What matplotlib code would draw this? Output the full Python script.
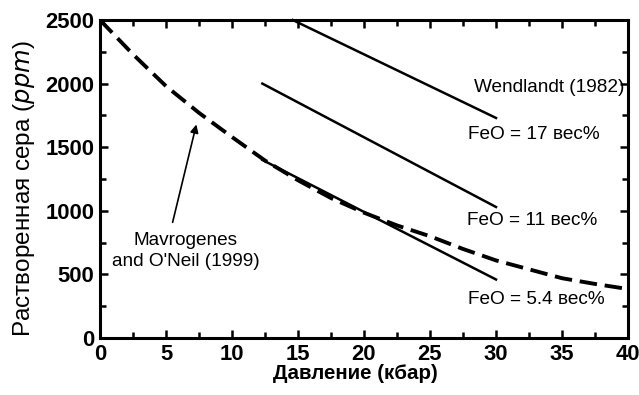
import matplotlib
matplotlib.use("Agg")
import matplotlib.pyplot as plt
from matplotlib.ticker import MultipleLocator

# Data
mavro_x = [0, 2.5, 5, 7.5, 10, 12.5, 15, 17.5, 20, 22.5, 25, 27.5, 30, 32.5, 35, 37.5, 40]
mavro_y = [2500, 2230, 1980, 1770, 1580, 1395, 1240, 1100, 985, 885, 800, 700, 610, 540, 470, 425, 385]
feo17_x = [14.6, 30]
feo17_y = [2500, 1730]
feo11_x = [12.3, 30]
feo11_y = [2000, 1030]
feo54_x = [12.3, 30]
feo54_y = [1400, 460]

plt.rcParams['font.family'] = ['Liberation Sans', 'DejaVu Sans']

fig = plt.figure(figsize=(6.39, 3.95), dpi=100)
ax = fig.add_axes([100/639, 1-338/395, 528/639, 318/395])

ax.plot(mavro_x, mavro_y, color='black', lw=2.8, dashes=(4.5, 2), zorder=3)
ax.plot(feo17_x, feo17_y, color='black', lw=1.8, clip_on=False)
ax.plot(feo11_x, feo11_y, color='black', lw=1.8)
ax.plot(feo54_x, feo54_y, color='black', lw=1.8)

ax.set_xlim(0, 40)
ax.set_ylim(0, 2500)
ax.xaxis.set_major_locator(MultipleLocator(5))
ax.xaxis.set_minor_locator(MultipleLocator(2.5))
ax.yaxis.set_major_locator(MultipleLocator(500))
ax.yaxis.set_minor_locator(MultipleLocator(250))
ax.tick_params(which='both', direction='in', top=True, right=True, width=1.8, colors='black')
ax.tick_params(which='major', length=6, labelsize=15.8, pad=4)
ax.tick_params(which='minor', length=4)
for lab in ax.get_xticklabels() + ax.get_yticklabels():
    lab.set_fontweight('bold')
for sp in ax.spines.values():
    sp.set_linewidth(2.2)

ax.set_xlabel('Давление (кбар)', fontsize=14.8, fontweight='bold')
ax.set_ylabel('Растворенная сера ($\\mathit{ppm}$)', fontsize=17.5)
ax.xaxis.set_label_coords(0.484, -0.082)
ax.yaxis.set_label_coords(-0.12, 0.469)

ax.text(6.5, 770, 'Mavrogenes', fontsize=13.7, ha='center', va='center')
ax.text(6.5, 605, "and O'Neil (1999)", fontsize=13.7, ha='center', va='center')
ax.annotate('', xy=(7.35, 1700), xytext=(5.45, 888),
            arrowprops=dict(arrowstyle='-|>', color='black', lw=1.2, mutation_scale=12))
ax.text(28.3, 1973, 'Wendlandt (1982)', fontsize=13.7, ha='left', va='center')
ax.text(27.9, 1596, 'FeO = 17 вес%', fontsize=13.7, ha='left', va='center')
ax.text(27.8, 920, 'FeO = 11 вес%', fontsize=13.7, ha='left', va='center')
ax.text(27.9, 300, 'FeO = 5.4 вес%', fontsize=13.7, ha='left', va='center')

fig.savefig('out.png', dpi=100)
